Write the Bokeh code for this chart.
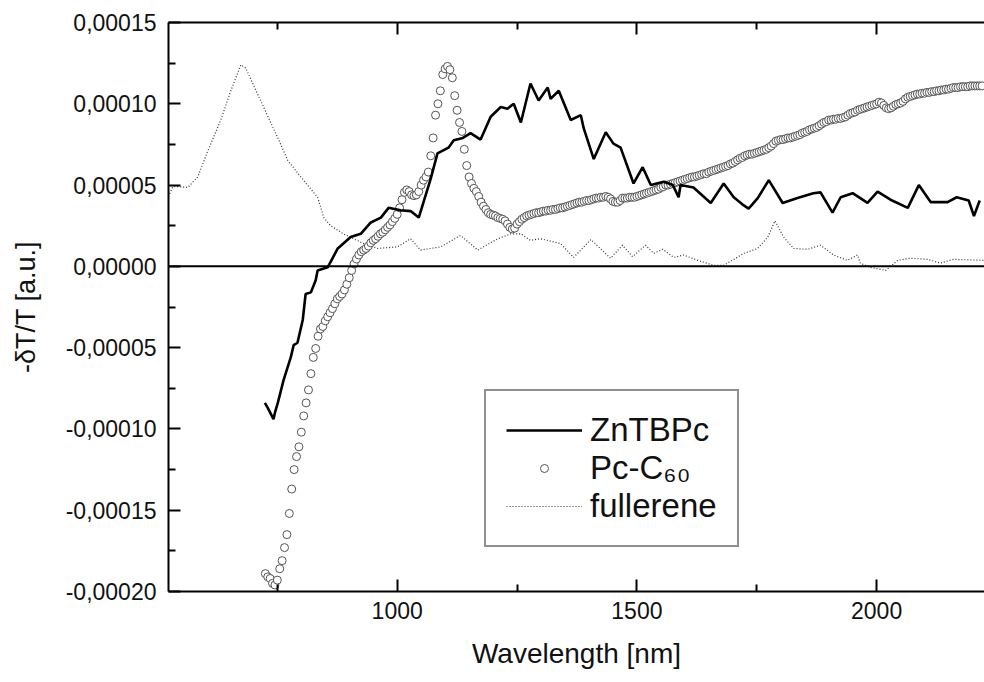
import numpy as np
from bokeh.plotting import figure
from bokeh.models import (LinearAxis, FixedTicker, CustomJSTickFormatter, Span,
                          Legend, LegendItem, Range1d)
from bokeh.embed import file_html
from bokeh.resources import INLINE

# ---------------- data (values in units of 1e-5) ----------------
znt_x = [724, 730, 742, 745, 751, 763, 778, 784, 792, 803, 809, 820, 830, 834, 855,
         876, 903, 924, 945, 966, 982, 1007, 1028, 1045, 1070, 1084, 1107, 1118,
         1137, 1153, 1174, 1195, 1216, 1230, 1243, 1258, 1278, 1295, 1314, 1320,
         1337, 1362, 1383, 1389, 1410, 1435, 1451, 1466, 1493, 1512, 1529, 1556,
         1575, 1587, 1591, 1618, 1654, 1681, 1702, 1723, 1733, 1752, 1775, 1804,
         1835, 1868, 1883, 1908, 1925, 1950, 1981, 2002, 2029, 2065, 2088, 2113,
         2148, 2167, 2192, 2203, 2215]
znt_y = [-8.4, -8.7, -9.4, -9.0, -8.4, -7.0, -5.6, -4.85, -4.7, -3.3, -1.7, -1.6,
         -0.86, -0.25, -0.06, 1.1, 1.8, 2.0, 2.7, 3.0, 3.6, 3.45, 3.4, 3.0, 5.4,
         6.95, 7.3, 7.75, 7.9, 8.2, 7.8, 9.2, 9.8, 9.7, 10.0, 8.85, 11.25, 10.2,
         11.0, 10.3, 10.8, 9.0, 9.3, 8.5, 6.6, 8.25, 7.55, 7.3, 5.1, 6.1, 5.0, 5.2,
         5.0, 4.25, 5.0, 4.85, 3.9, 5.1, 4.25, 3.75, 3.55, 4.2, 5.3, 3.9, 4.2, 4.5,
         4.55, 3.3, 4.25, 4.5, 3.9, 4.6, 4.1, 3.6, 5.0, 3.95, 3.95, 4.25, 4.05,
         3.1, 4.05]

pc_start = 725   # nm, first sample
pc_step = 5      # nm, sampling step
pc_y = [-18.9, -19.1, -19.2, -19.5, -19.6, -19.3, -18.6, -18.1, -17.3, -16.5,
        -15.2, -13.7, -12.5, -11.7, -11.1, -10.2, -9.2, -8.4, -7.6, -6.6,
        -5.6, -5.05, -4.3, -3.85, -3.7, -3.35, -3.1, -2.85, -2.6, -2.3,
        -2.0, -1.85, -1.7, -1.45, -1.1, -0.7, -0.25, 0.15, 0.45, 0.7,
        0.9, 1.0, 1.1, 1.25, 1.45, 1.6, 1.7, 1.85, 2.0, 2.1,
        2.25, 2.4, 2.55, 2.75, 2.95, 3.2, 3.6, 4.1, 4.55, 4.7,
        4.6, 4.4, 4.35, 4.4, 4.6, 5.0, 5.3, 5.5, 5.8, 6.8,
        7.9, 9.3, 10.0, 10.8, 11.8, 12.15, 12.3, 12.1, 11.6, 10.5,
        9.6, 8.85, 8.3, 7.2, 6.2, 5.5, 5.1, 4.8, 4.6, 4.3,
        3.95, 3.7, 3.5, 3.3, 3.2, 3.15, 3.1, 3.0, 2.95, 2.9,
        2.8, 2.6, 2.4, 2.3, 2.35, 2.6, 2.75, 2.9, 3.0, 3.1,
        3.15, 3.2, 3.25, 3.3, 3.3, 3.35, 3.4, 3.4, 3.45, 3.45,
        3.5, 3.5, 3.55, 3.6, 3.6, 3.65, 3.7, 3.75, 3.8, 3.85,
        3.9, 3.95, 3.95, 4.0, 4.05, 4.05, 4.1, 4.15, 4.2, 4.2,
        4.25, 4.25, 4.3, 4.25, 4.15, 4.0, 3.95, 3.95, 4.05, 4.2,
        4.2, 4.2, 4.25, 4.25, 4.25, 4.3, 4.35, 4.4, 4.45, 4.5,
        4.55, 4.6, 4.65, 4.7, 4.75, 4.85, 4.9, 5.0, 5.0, 5.05,
        5.1, 5.15, 5.2, 5.25, 5.3, 5.35, 5.4, 5.45, 5.5, 5.5,
        5.55, 5.6, 5.65, 5.7, 5.7, 5.8, 5.85, 5.9, 5.95, 6.0,
        6.05, 6.1, 6.15, 6.2, 6.3, 6.35, 6.45, 6.55, 6.65, 6.7,
        6.8, 6.85, 6.9, 6.9, 6.95, 7.0, 7.05, 7.1, 7.15, 7.2,
        7.3, 7.4, 7.55, 7.7, 7.75, 7.8, 7.8, 7.85, 7.9, 7.9,
        7.95, 8.0, 8.05, 8.1, 8.2, 8.25, 8.3, 8.4, 8.45, 8.5,
        8.55, 8.65, 8.75, 8.85, 8.9, 9.0, 9.0, 9.05, 9.05, 9.1,
        9.1, 9.15, 9.2, 9.3, 9.4, 9.45, 9.5, 9.6, 9.65, 9.7,
        9.75, 9.8, 9.85, 9.9, 9.95, 10.0, 10.1, 10.05, 9.9, 9.75,
        9.7, 9.75, 9.85, 9.95, 10.0, 10.05, 10.15, 10.3, 10.4, 10.45,
        10.5, 10.55, 10.6, 10.6, 10.65, 10.65, 10.7, 10.7, 10.75, 10.75,
        10.8, 10.8, 10.85, 10.85, 10.9, 10.9, 10.95, 11.0, 11.0, 11.0,
        11.05, 11.05, 11.05, 11.05, 11.1, 11.1, 11.1, 11.1, 11.1, 11.1]

ful_x = [523, 532, 545, 563, 584, 605, 632, 653, 674, 684, 715, 751, 772, 799, 834,
         847, 861, 888, 930, 959, 1001, 1028, 1049, 1091, 1132, 1168, 1210, 1237,
         1258, 1278, 1299, 1341, 1368, 1404, 1445, 1470, 1491, 1518, 1535, 1554,
         1577, 1597, 1627, 1660, 1681, 1723, 1752, 1773, 1788, 1806, 1827, 1856,
         1883, 1910, 1939, 1960, 1966, 1987, 2019, 2044, 2071, 2106, 2133, 2160, 2223]
ful_y = [4.3, 4.9, 4.9, 4.85, 5.5, 7.1, 9.0, 10.8, 12.4, 12.2, 10.2, 7.9, 6.5, 5.5,
         4.25, 3.0, 2.5, 2.0, 1.4, 1.1, 1.2, 1.7, 1.0, 1.2, 1.9, 1.0, 1.7, 2.0, 2.0,
         1.6, 1.7, 1.4, 0.55, 1.65, 0.5, 1.3, 0.6, 1.3, 0.8, 1.05, 0.55, 0.7, 0.37,
         0.06, 0.06, 0.8, 1.1, 1.8, 2.8, 1.8, 1.1, 1.05, 1.3, 0.7, 0.37, 0.7, 0.2,
         -0.06, -0.25, 0.37, 0.5, 0.43, 0.2, 0.43, 0.37]

scale = 1e-5
x_ticks = [1000, 1500, 2000]
x_minor = [750, 1250, 1750]
y_ticks = [-0.0002, -0.00015, -0.0001, -0.00005, 0.0, 0.00005, 0.0001, 0.00015]
y_minor = [-0.000175, -0.000125, -0.000075, -0.000025, 0.000025, 0.000075, 0.000125]

labels = ["ZnTBPc", "Pc-C\u2086\u2080", "fullerene"]
x_label = "Wavelength [nm]"
y_label = "-\u03b4T/T [a.u.]"

# ---------------- figure ----------------
FONT = "Liberation Sans"
X0, X1 = 523, 2225
Y0, Y1 = -0.0002, 0.00015
p = figure(width=984, height=680, output_backend="svg", toolbar_location=None,
           x_range=Range1d(X0, X1), y_range=Range1d(Y0, Y1),
           x_axis_type=None, y_axis_type=None,
           min_border_left=168, min_border_right=0, min_border_top=22,
           min_border_bottom=89)
p.outline_line_color = None
p.grid.visible = False
p.background_fill_color = "white"
p.border_fill_color = "white"

y_fmt = CustomJSTickFormatter(code="""
const v = Math.abs(tick) < 1e-12 ? 0 : tick;
const s = Math.abs(v).toFixed(5).replace('.', ',');
return (v < 0 ? '-' : '') + s;
""")
blank_fmt = CustomJSTickFormatter(code="return '';")

def style(ax):
    ax.axis_line_color = "black"
    ax.axis_line_width = 2
    ax.major_tick_line_color = "black"
    ax.major_tick_line_width = 2
    ax.minor_tick_line_color = "black"
    ax.minor_tick_line_width = 2
    ax.major_tick_in = 12
    ax.major_tick_out = 0
    ax.minor_tick_in = 7
    ax.minor_tick_out = 0
    ax.major_label_text_font = FONT
    ax.major_label_text_font_size = "23px"
    ax.major_label_text_color = "#111111"
    ax.axis_label_text_font = FONT
    ax.axis_label_text_font_size = "28px"
    ax.axis_label_text_font_style = "normal"
    ax.axis_label_text_color = "#111111"

xt = FixedTicker(ticks=x_ticks, minor_ticks=x_minor)
yt = FixedTicker(ticks=y_ticks, minor_ticks=y_minor)

xb = LinearAxis(ticker=xt, axis_label=x_label)
style(xb)
xb.major_label_standoff = 10
xb.axis_label_standoff = 16
p.add_layout(xb, "below")

xa = LinearAxis(ticker=xt, formatter=blank_fmt)
style(xa)
xa.major_label_standoff = 0
p.add_layout(xa, "above")

yl = LinearAxis(ticker=yt, formatter=y_fmt, axis_label=y_label)
style(yl)
yl.major_label_standoff = 12
yl.axis_label_standoff = 22
yl.axis_label_text_font_size = "27px"
p.add_layout(yl, "left")

p.add_layout(Span(location=0, dimension="width", line_color="black", line_width=2))

fx = np.array(ful_x)
fy = np.array(ful_y) * scale
r_ful = p.line(fx, fy, line_color="#333333", line_width=1.2, line_dash="1 2")

px = pc_start + pc_step * np.arange(len(pc_y))
py = np.array(pc_y) * scale
r_pc = p.scatter(px, py, marker="circle", size=8, fill_color="white",
                 line_color="#555555", line_width=1)

zx = np.array(znt_x)
zy = np.array(znt_y) * scale
r_znt = p.line(zx, zy, line_color="black", line_width=2.6)

legend = Legend(items=[LegendItem(label=labels[0], renderers=[r_znt]),
                       LegendItem(label=labels[1], renderers=[r_pc]),
                       LegendItem(label=labels[2], renderers=[r_ful])],
                location=(316, 44))
legend.border_line_color = "#222222"
legend.border_line_width = 2
legend.background_fill_color = "white"
legend.background_fill_alpha = 1
legend.label_text_font = FONT
legend.label_text_font_size = "33px"
legend.label_text_color = "#111111"
legend.glyph_width = 76
legend.glyph_height = 20
legend.label_standoff = 8
legend.padding = 20
legend.spacing = 0
legend.margin = 0
p.add_layout(legend, "center")

open("out.html", "w").write(file_html(p, INLINE))
